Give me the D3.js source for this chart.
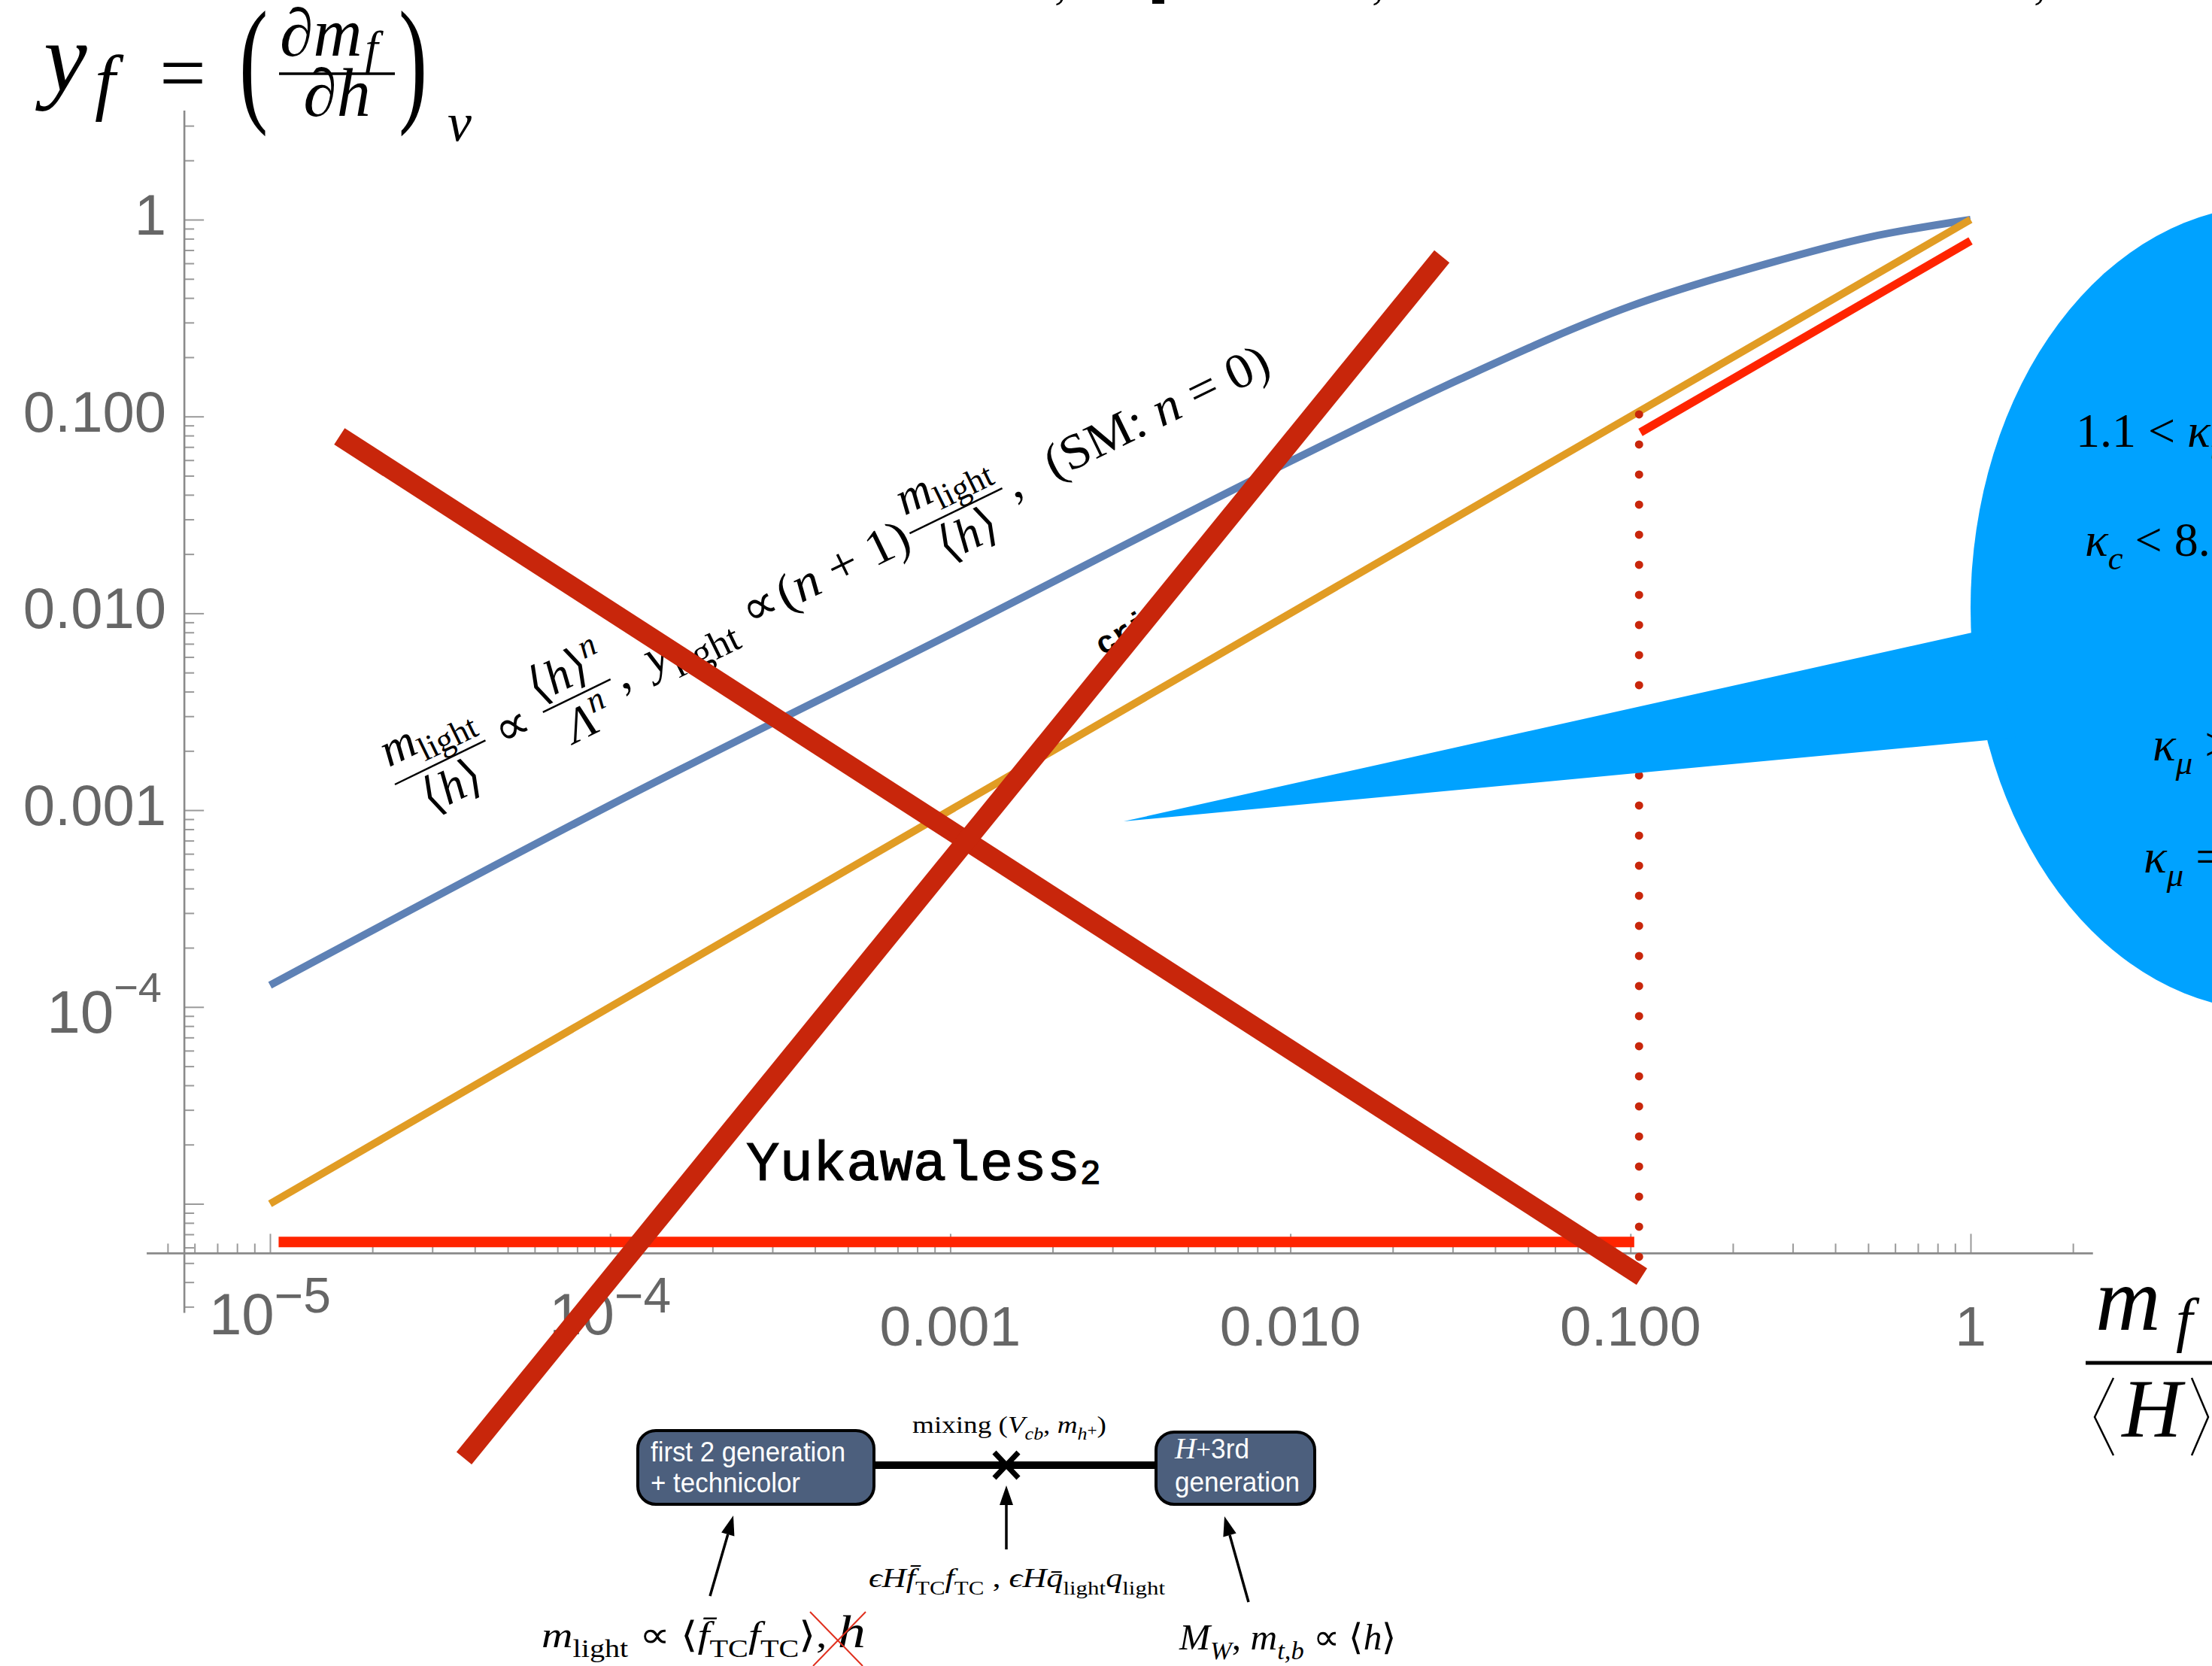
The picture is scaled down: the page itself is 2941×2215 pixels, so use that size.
<!DOCTYPE html>
<html><head><meta charset="utf-8">
<script src="https://cdn.jsdelivr.net/npm/d3@7"></script>
<style>body{margin:0;background:#fff;overflow:hidden}svg{display:block}</style>
</head><body>
<svg id="c" width="2941" height="2215"></svg>
<script>
// ---------------- data ----------------
const xMajor = [1e-5, 1e-4, 1e-3, 1e-2, 1e-1, 1];
const xMajorLabels = [["10","−5"], ["10","−4"], "0.001", "0.010", "0.100", "1"];
const yMajor = [1, 0.1, 0.01, 0.001, 1e-4, 1e-5];
const yMajorLabels = ["1", "0.100", "0.010", "0.001", ["10","−4"], ""];
const axisOrigin = [5.6e-6, 5.6e-6];
const xAxisExtent = [4.34e-6, 2.29];
const yAxisExtent = [2.79e-6, 3.58];

const blueX = [1e-5, 1e-4, 1e-3, 1e-2, 0.0316, 0.1, 0.251, 0.501, 1];
const blueY = [1.29e-4, 1.06e-3, 7.82e-3, 0.0592, 0.155, 0.363, 0.596, 0.813, 1];
const orangeX = [1e-5, 1];
const orangeY = [1e-5, 1];
const redTopX = [0.107, 1];
const redTopY = [0.083, 0.78];
const redLowX = [1.06e-5, 0.1026];
const redLowY = [6.4e-6, 6.4e-6];
const dotX = [0.106, 0.106];
const dotY = [5.38e-6, 0.106];
const crossAX = [1.6e-5, 0.108];
const crossAY = [0.0793, 4.27e-6];
const crossBX = [3.72e-5, 0.0279];
const crossBY = [5.1e-7, 0.65];
const bubbleBoxX = [1, 58.8];
const bubbleBoxY = [9.6e-5, 1.18];
const tailX = [3.236e-3, 1.107, 1.357];
const tailY = [8.77e-4, 8.27e-3, 2.34e-3];

// ---------------- scales ----------------
const x = d3.scaleLog().domain([1e-5, 1]).range([359, 2620]);
const y = d3.scaleLog().domain([1e-5, 1]).range([1600.5, 292]);
const svg = d3.select('#c');

const xMinor = [], yMinor = [];
for (let d = -7; d <= 1; d++) for (let m = 2; m <= 9; m++) {
  const v = m * Math.pow(10, d);
  if (v > xAxisExtent[0] && v < xAxisExtent[1]) xMinor.push(v);
  if (v > yAxisExtent[0] && v < yAxisExtent[1]) yMinor.push(v);
}

function rich(parent, px, py, fs, segs, opt = {}) {
  const t = parent.append('text').attr('x', px).attr('y', py).attr('font-size', fs)
    .attr('font-family', opt.ff || 'Liberation Serif').attr('fill', opt.fill || '#000');
  if (opt.anchor) t.attr('text-anchor', opt.anchor);
  if (opt.len) t.attr('textLength', opt.len).attr('lengthAdjust', 'spacingAndGlyphs');
  let cur = 0;
  segs.forEach(s => {
    const o = typeof s === 'string' ? {t: s} : s;
    const shift = o.sub ? fs * (o.subk || 0.28) : o.sup ? -fs * 0.4 : (o.dy || 0);
    const ts = t.append('tspan').text(o.t).attr('dy', shift - cur);
    cur = shift;
    ts.attr('font-size', o.fs || ((o.sub || o.sup) ? fs * 0.7 : fs));
    if (o.i) ts.attr('font-style', 'italic');
    if (o.ff) ts.attr('font-family', o.ff);
    if (o.dx) ts.attr('dx', o.dx);
    if (o.x !== undefined) ts.attr('x', o.x);
  });
  return t;
}

// ---------------- axes ----------------
const axisCol = '#8a8a8a';
const X0 = y(axisOrigin[1]), Y0 = x(axisOrigin[0]);
const gxM = svg.append('g').attr('transform', `translate(0,${X0})`)
  .call(d3.axisBottom(x).tickValues(xMajor).tickSize(-26).tickFormat(''));
const gxm = svg.append('g').attr('transform', `translate(0,${X0})`)
  .call(d3.axisBottom(x).tickValues(xMinor).tickSize(-13).tickFormat(''));
const gyM = svg.append('g').attr('transform', `translate(${Y0},0)`)
  .call(d3.axisLeft(y).tickValues(yMajor).tickSize(-26).tickFormat(''));
const gym = svg.append('g').attr('transform', `translate(${Y0},0)`)
  .call(d3.axisLeft(y).tickValues(yMinor).tickSize(-13).tickFormat(''));
[gxM, gxm, gyM, gym].forEach(g => {
  g.select('.domain').remove();
  g.selectAll('.tick line').attr('stroke', '#9a9a9a').attr('stroke-width', 2);
});
svg.append('line').attr('x1', x(xAxisExtent[0])).attr('x2', x(xAxisExtent[1]))
  .attr('y1', X0).attr('y2', X0).attr('stroke', axisCol).attr('stroke-width', 2.6);
svg.append('line').attr('x1', Y0).attr('x2', Y0)
  .attr('y1', y(yAxisExtent[0])).attr('y2', y(yAxisExtent[1])).attr('stroke', axisCol).attr('stroke-width', 2.6);

const labCol = '#666666';
xMajor.forEach((v, i) => {
  const lab = xMajorLabels[i];
  if (Array.isArray(lab)) {
    rich(svg, x(v), 1774, 78, [lab[0], {t: lab[1], dy: -29, fs: 66}], {ff: 'Liberation Sans', fill: labCol, anchor: 'middle'});
  } else {
    svg.append('text').attr('x', x(v)).attr('y', 1789).attr('text-anchor', 'middle')
      .attr('font-family', 'Liberation Sans').attr('font-size', 75).attr('fill', labCol).text(lab);
  }
});
yMajor.forEach((v, i) => {
  const lab = yMajorLabels[i];
  if (!lab) return;
  if (Array.isArray(lab)) {
    rich(svg, 215, y(v) + 34, 80, [lab[0], {t: lab[1], dy: -41, fs: 56}], {ff: 'Liberation Sans', fill: labCol, anchor: 'end'});
  } else {
    svg.append('text').attr('x', 221).attr('y', y(v) + 20).attr('text-anchor', 'end')
      .attr('font-family', 'Liberation Sans').attr('font-size', 76).attr('fill', labCol).text(lab);
  }
});

// ---------------- curves ----------------
const line = d3.line().x(d => x(d[0])).y(d => y(d[1]));
const curve = d3.line().x(d => x(d[0])).y(d => y(d[1])).curve(d3.curveMonotoneX);
svg.append('path').attr('d', curve(d3.zip(blueX, blueY))).attr('fill', 'none')
  .attr('stroke', '#5e81b5').attr('stroke-width', 10);
svg.append('path').attr('d', line(d3.zip(orangeX, orangeY))).attr('fill', 'none')
  .attr('stroke', '#e19c24').attr('stroke-width', 10);
svg.append('path').attr('d', line(d3.zip(redTopX, redTopY))).attr('fill', 'none')
  .attr('stroke', '#ff2400').attr('stroke-width', 11);
svg.append('path').attr('d', line(d3.zip(redLowX, redLowY))).attr('fill', 'none')
  .attr('stroke', '#ff2400').attr('stroke-width', 14);
svg.append('path').attr('d', line(d3.zip(dotX, dotY))).attr('fill', 'none')
  .attr('stroke', '#c8260b').attr('stroke-width', 11).attr('stroke-linecap', 'round')
  .attr('stroke-dasharray', '0 40');

// ---------------- rotated annotation ----------------
const ann = svg.append('g').attr('transform', 'translate(525,1043) rotate(-26)');
function frac(cx, num, den, w) {
  ann.append('line').attr('x1', cx - w / 2).attr('x2', cx + w / 2).attr('y1', 0).attr('y2', 0)
    .attr('stroke', '#000').attr('stroke-width', 2.5);
  rich(ann, cx, -24, 64, num, {anchor: 'middle'});
  rich(ann, cx, 56, 64, den, {anchor: 'middle'});
}
const mlight = [{t: 'm', i: 1}, {t: 'light', sub: 1, subk: 0.22}];
const hbr = ['⟨', {t: 'h', i: 1}, '⟩'];
frac(67, mlight, hbr, 134);
rich(ann, 150, 20, 66, ['∝']);
rich(ann, 269, -14, 64, ['⟨', {t: 'h', i: 1}, '⟩', {t: 'n', i: 1, sup: 1}], {anchor: 'middle'});
rich(ann, 269, 56, 64, [{t: 'Λ', i: 1}, {t: 'n', i: 1, sup: 1}], {anchor: 'middle'});
ann.append('line').attr('x1', 219).attr('x2', 319).attr('y1', 0).attr('y2', 0).attr('stroke', '#000').attr('stroke-width', 2.5);
rich(ann, 326, 20, 66, [',']);
rich(ann, 372, 20, 66, [{t: 'y', i: 1}, {t: 'light', sub: 1, fs: 52}]);
rich(ann, 516, 20, 66, ['∝']);
rich(ann, 568, 20, 66, ['(', {t: 'n', i: 1}, ' + 1)'], {len: 190});
frac(830, mlight, hbr, 137);
rich(ann, 906, 20, 66, [',']);
rich(ann, 965, 20, 66, ['(SM:  ', {t: 'n', i: 1}, ' = 0)'], {len: 325});

// Yukawaless label
rich(svg, 992, 1569, 74, ['Yukawaless', {t: '2', dy: 5, fs: 46}], {ff: 'Liberation Mono'})
  .attr('stroke', '#000').attr('stroke-width', 1.2);
svg.append('text').attr('transform', 'translate(1466,872) rotate(-30)')
  .attr('font-family', 'Liberation Mono').attr('font-weight', 'bold').attr('font-size', 42).text('cri');

// ---------------- speech bubble ----------------
const bub = '#00a2ff';
svg.append('ellipse')
  .attr('cx', (x(bubbleBoxX[0]) + x(bubbleBoxX[1])) / 2)
  .attr('cy', (y(bubbleBoxY[0]) + y(bubbleBoxY[1])) / 2)
  .attr('rx', (x(bubbleBoxX[1]) - x(bubbleBoxX[0])) / 2)
  .attr('ry', (y(bubbleBoxY[0]) - y(bubbleBoxY[1])) / 2)
  .attr('fill', bub);
svg.append('path').attr('d', line(d3.zip(tailX, tailY)) + 'Z').attr('fill', bub);
rich(svg, 2760, 594, 64, ['1.1 < ', {t: 'κ', i: 1}, {t: 't', i: 1, sub: 1}, ' < 2']);
rich(svg, 2772, 739, 64, [{t: 'κ', i: 1}, {t: 'c', i: 1, sub: 1}, {t: ' < 8.5', dy: 0}]);
rich(svg, 2862, 1011, 64, [{t: 'κ', i: 1}, {t: 'μ', i: 1, sub: 1}, {t: ' > 0', dy: 0}]);
rich(svg, 2850, 1160, 64, [{t: 'κ', i: 1}, {t: 'μ', i: 1, sub: 1}, {t: ' = 0', dy: 0}]);

// ---------------- thick red cross ----------------
svg.append('path').attr('d', line(d3.zip(crossAX, crossAY))).attr('stroke', '#c8260b')
  .attr('stroke-width', 26).attr('fill', 'none');
svg.append('path').attr('d', line(d3.zip(crossBX, crossBY))).attr('stroke', '#c8260b')
  .attr('stroke-width', 26).attr('fill', 'none');

// ---------------- axis titles ----------------
rich(svg, 58, 120, 130, [{t: 'y', i: 1}, {t: 'f', i: 1, dy: 21, fs: 98, x: 126}, {t: '=', dy: 14, fs: 110, x: 212}]);
svg.append('text').attr('transform', 'translate(318,142) scale(0.62,1)').attr('font-family', 'Liberation Serif')
  .attr('font-size', 185).text('(');
svg.append('text').attr('transform', 'translate(530,142) scale(0.62,1)').attr('font-family', 'Liberation Serif')
  .attr('font-size', 185).text(')');
rich(svg, 372, 74, 90, [{t: '∂', i: 1}, {t: 'm', i: 1}, {t: 'f', i: 1, dy: 10, fs: 62, dx: 4}]);
svg.append('line').attr('x1', 371).attr('x2', 525).attr('y1', 98).attr('y2', 98).attr('stroke', '#000').attr('stroke-width', 3.5);
rich(svg, 448, 154, 90, [{t: '∂', i: 1}, {t: 'h', i: 1}], {anchor: 'middle'});
rich(svg, 595, 187, 72, [{t: 'v', i: 1}]);

rich(svg, 2786, 1768, 120, [{t: 'm', i: 1}, {t: 'f', i: 1, dy: 14, fs: 80, x: 2893}]);
svg.append('line').attr('x1', 2773).attr('x2', 2941).attr('y1', 1812).attr('y2', 1812).attr('stroke', '#000').attr('stroke-width', 5);
svg.append('path').attr('d', 'M2810,1832L2785,1884L2810,1935').attr('fill', 'none').attr('stroke', '#000').attr('stroke-width', 2.5);
svg.append('path').attr('d', 'M2914,1832L2936,1884L2914,1935').attr('fill', 'none').attr('stroke', '#000').attr('stroke-width', 2.5);
rich(svg, 2861, 1910, 110, [{t: 'H', i: 1}], {anchor: 'middle'});

// clipped text at the very top
[1402, 1824, 2704].forEach(px => svg.append('text').attr('x', px).attr('y', -2)
  .attr('font-family', 'Liberation Serif').attr('font-size', 64).text(','));
svg.append('rect').attr('x', 1532).attr('y', 0).attr('width', 16).attr('height', 5).attr('fill', '#000');

// ---------------- bottom diagram ----------------
const boxFill = '#4c5f7d';
svg.append('line').attr('x1', 1160).attr('x2', 1540).attr('y1', 1948).attr('y2', 1948).attr('stroke', '#000').attr('stroke-width', 10);
svg.append('rect').attr('x', 848).attr('y', 1902).attr('width', 314).attr('height', 98).attr('rx', 24)
  .attr('fill', boxFill).attr('stroke', '#000').attr('stroke-width', 4);
svg.append('rect').attr('x', 1537).attr('y', 1904).attr('width', 211).attr('height', 96).attr('rx', 24)
  .attr('fill', boxFill).attr('stroke', '#000').attr('stroke-width', 4);
rich(svg, 865, 1943, 36, ['first 2 generation'], {ff: 'Liberation Sans', fill: '#fff', len: 259});
rich(svg, 865, 1984, 36, ['+ technicolor'], {ff: 'Liberation Sans', fill: '#fff', len: 199});
rich(svg, 1562, 1939, 36, [{t: 'H', i: 1, ff: 'Liberation Serif', fs: 40}, {t: '+', ff: 'Liberation Serif'}, '3rd'], {ff: 'Liberation Sans', fill: '#fff', len: 99});
rich(svg, 1562, 1983, 36, ['generation'], {ff: 'Liberation Sans', fill: '#fff', len: 166});
svg.append('path').attr('d', 'M1322,1931L1354,1965M1354,1931L1322,1965').attr('stroke', '#000').attr('stroke-width', 7).attr('fill', 'none');
rich(svg, 1213, 1905, 32, ['mixing (', {t: 'V', i: 1}, {t: 'cb', i: 1, sub: 1}, {t: ', ', dy: 0}, {t: 'm', i: 1},
  {t: 'h', i: 1, sub: 1}, {t: '+', dy: 4, fs: 20}, {t: ')', dy: 0}], {len: 258});

function arrow(x1, y1, x2, y2) {
  const a = Math.atan2(y2 - y1, x2 - x1), L = 26, W = 9;
  const bx = x2 - L * Math.cos(a), by = y2 - L * Math.sin(a);
  svg.append('line').attr('x1', x1).attr('y1', y1).attr('x2', bx).attr('y2', by).attr('stroke', '#000').attr('stroke-width', 3.5);
  svg.append('path').attr('d', `M${x2},${y2}L${bx - W * Math.sin(a)},${by + W * Math.cos(a)}L${bx + W * Math.sin(a)},${by - W * Math.cos(a)}Z`).attr('fill', '#000');
}
arrow(944, 2122, 975, 2015);
arrow(1338, 2060, 1338, 1975);
arrow(1660, 2130, 1628, 2016);

rich(svg, 1155, 2110, 36, [{t: 'ϵ', i: 1}, {t: 'H', i: 1}, {t: 'f̄', i: 1}, {t: 'TC', sub: 1}, {t: 'f', i: 1, dy: 0}, {t: 'TC', sub: 1},
  {t: ' ,  ', dy: 0}, {t: 'ϵ', i: 1}, {t: 'H', i: 1}, {t: 'q̄', i: 1}, {t: 'light', sub: 1}, {t: 'q', i: 1, dy: 0}, {t: 'light', sub: 1}], {len: 394});
rich(svg, 720, 2190, 48, [{t: 'm', i: 1}, {t: 'light', sub: 1}, {t: ' ∝ ⟨', dy: 0}, {t: 'f̄', i: 1}, {t: 'TC', sub: 1}, {t: 'f', i: 1, dy: 0},
  {t: 'TC', sub: 1}, {t: '⟩, ', dy: 0}, {t: 'h', i: 1, fs: 62}], {len: 431});
svg.append('path').attr('d', 'M1077,2143L1147,2215M1151,2143L1081,2215').attr('stroke', '#e0301e').attr('stroke-width', 2).attr('fill', 'none');
rich(svg, 1568, 2193, 48, [{t: 'M', i: 1}, {t: 'W', i: 1, sub: 1}, {t: ', ', dy: 0}, {t: 'm', i: 1}, {t: 't,b', i: 1, sub: 1},
  {t: ' ∝ ⟨', dy: 0}, {t: 'h', i: 1}, '⟩'], {len: 289});
</script>
</body></html>
